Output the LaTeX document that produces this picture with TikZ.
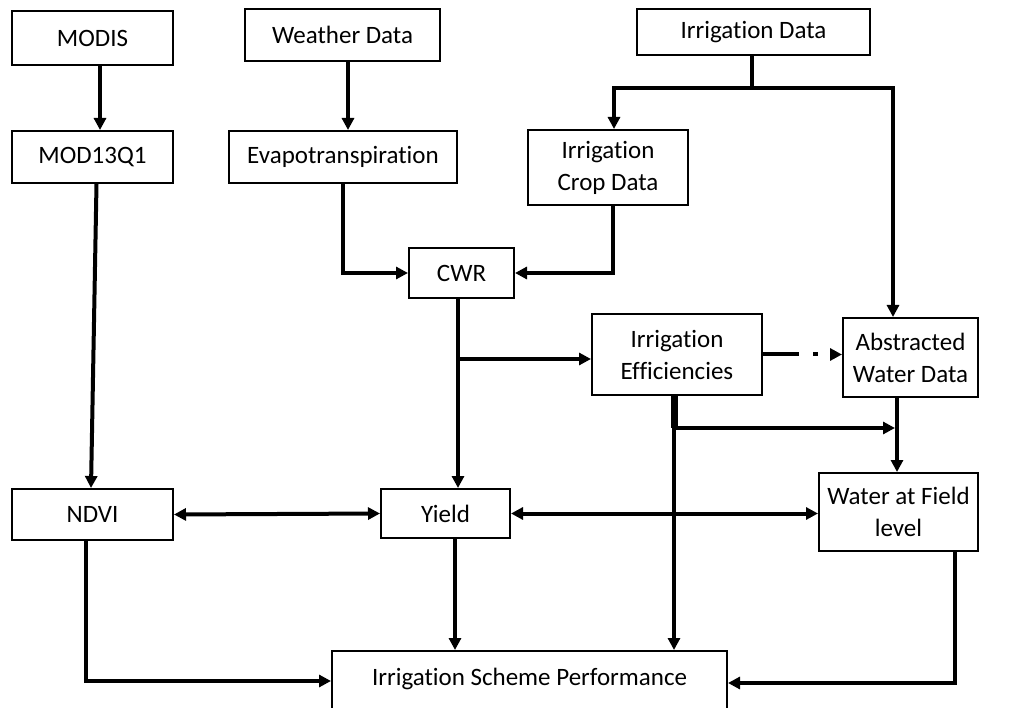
\documentclass[tikz,border=0pt]{standalone}
\usepackage{fontspec}
\setmainfont{Carlito}[Ligatures={NoCommon}]
\usetikzlibrary{arrows.meta,calc}
\begin{document}
\begin{tikzpicture}[x=1pt,y=-1pt,
  box/.style={draw,line width=2pt,inner sep=0pt,align=center,
    font=\fontsize{25}{32}\selectfont},
  wire/.style={line width=4pt},
  conn/.style={wire,-{Triangle[length=12pt,width=12pt]}},
  both/.style={wire,{Triangle[length=12pt,width=12pt]}-{Triangle[length=12pt,width=12pt]}}]
\clip (0,0) rectangle (1012,708);
\fill[white] (0,0) rectangle (1012,708);

% data sources
\node[box,minimum width=161pt,minimum height=54pt] (modis) at (92.5,38) {MODIS};
\node[box,minimum width=195pt,minimum height=52pt] (weather) at (342.5,35) {Weather Data};
\node[box,minimum width=233pt,minimum height=46pt] (irrdata) at (753.5,32) {Irrigation Data};

% derived products
\node[box,minimum width=161pt,minimum height=52pt] (mod) at (92.5,157) {MOD13Q1};
\node[box,minimum width=228pt,minimum height=52pt] (evapo) at (343,157) {Evapotranspiration};
\node[box,minimum width=160pt,minimum height=75pt] (crop) at (608,167.5) {Irrigation\\Crop Data};
\node[box,minimum width=105pt,minimum height=50pt] (cwr) at (461.5,273) {CWR};
\node[box,minimum width=170pt,minimum height=81pt] (eff) at (677,354.5) {Irrigation\\Efficiencies};
\node[box,minimum width=135pt,minimum height=79pt] (abs) at (910.5,357.5) {Abstracted\\Water Data};

% indicators
\node[box,minimum width=161pt,minimum height=51pt] (ndvi) at (92.5,514.5) {NDVI};
\node[box,minimum width=129pt,minimum height=49pt] (yield) at (445.5,513.5) {Yield};
\node[box,minimum width=159pt,minimum height=78pt] (field) at (898.5,512) {Water at Field\\level};
\node[box,anchor=north,minimum width=395pt,text height=34pt,text depth=60pt] (isp) at (529.5,650)
  {Irrigation Scheme Performance};

% helper coordinates for the connector columns and rows
\coordinate (jn) at (752,88);
\coordinate (cx) at (458,0);
\coordinate (b1) at (458,359);
\coordinate (ex) at (674,0);
\coordinate (b2) at (674,428);
\coordinate (ax) at (897,0);
\coordinate (tipx) at (895,0);
\coordinate (iyl) at (0,681);
\coordinate (iyr) at (0,683);

% top row to second row
\draw[conn] ([xshift=7.5pt]modis.south) -- ([xshift=7.5pt]mod.north);
\draw[conn] ([xshift=5.5pt]weather.south) -- ([xshift=5.5pt]weather.south |- evapo.north);
\draw[wire] (irrdata.south -| jn) -- (jn);
\draw[conn] (jn) -| ([xshift=6pt]crop.north);
\draw[conn] (jn) -| ([xshift=-17.5pt]abs.north);

% into CWR
\draw[conn] (evapo.south) |- (cwr.west);
\draw[conn] ([xshift=5pt]crop.south) |- (cwr.east);

% CWR outputs
\draw[conn] (cwr.south -| cx) -- (yield.north -| cx);
\draw[conn] (b1) -- (b1 -| eff.west);
\draw[conn,dash pattern=on 36pt off 14pt on 5pt off 40pt] (eff.east) -- (eff.east -| abs.west);

% efficiencies and abstracted water
\draw[line width=7pt] (eff.south -| ex) -- (b2);
\draw[conn] (eff.south -| ex) -- (isp.north -| ex);
\draw[conn] (b2) -- (b2 -| tipx);
\draw[conn] (abs.south -| ax) -- (field.north -| ax);

% NDVI, yield, field water
\draw[conn] ([xshift=4pt]mod.south) -- ([xshift=-1.5pt]ndvi.north);
\draw[both] (ndvi.east) -- (yield.west);
\draw[both] (yield.east) -- (yield.east -| field.west);

% into performance
\draw[conn] ([xshift=-6.5pt]ndvi.south) |- (isp.west |- iyl);
\draw[conn] ([xshift=9.5pt]yield.south) -- ([xshift=9.5pt]yield.south |- isp.north);
\draw[conn] ([xshift=56.5pt]field.south) |- (isp.east |- iyr);
\end{tikzpicture}
\end{document}
